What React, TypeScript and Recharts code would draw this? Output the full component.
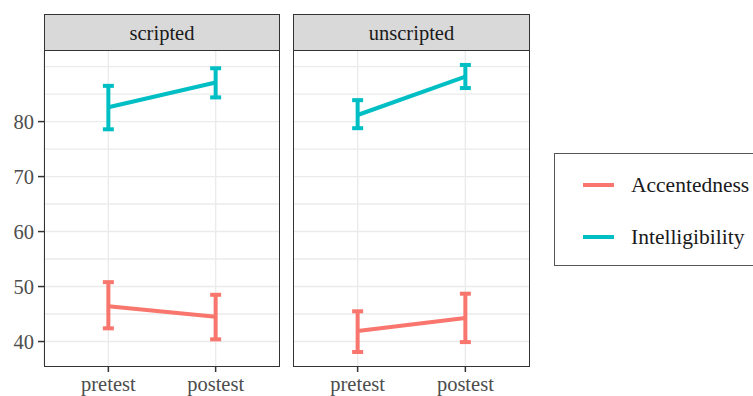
import { LineChart, Line, XAxis, YAxis, CartesianGrid, ErrorBar } from 'recharts';

const phases = ['pretest', 'postest'];
const conditions = ['scripted', 'unscripted'];
const measures = ['Accentedness', 'Intelligibility'];
const colors = ['#F8766D', '#00BFC4'];

// means and 95% interval ends, pretest / postest
const scriptedAccMean = [46.4, 44.5];
const scriptedAccLow = [42.4, 40.4];
const scriptedAccHigh = [50.8, 48.5];
const scriptedIntMean = [82.6, 87.1];
const scriptedIntLow = [78.6, 84.4];
const scriptedIntHigh = [86.5, 89.7];

const unscriptedAccMean = [41.9, 44.3];
const unscriptedAccLow = [38.1, 39.9];
const unscriptedAccHigh = [45.5, 48.7];
const unscriptedIntMean = [81.2, 88.2];
const unscriptedIntLow = [78.8, 86.1];
const unscriptedIntHigh = [83.9, 90.3];

const yTicks = [40, 50, 60, 70, 80];
const yGrid = [40, 45, 50, 55, 60, 65, 70, 75, 80, 85, 90];
const yDomain = [35.55, 92.84];

function buildRows(accMean: number[], accLow: number[], accHigh: number[], intMean: number[], intLow: number[], intHigh: number[]) {
  return phases.map((phase, i) => ({
    pos: i + 1,
    phase,
    acc: accMean[i],
    accErr: [accMean[i] - accLow[i], accHigh[i] - accMean[i]],
    int: intMean[i],
    intErr: [intMean[i] - intLow[i], intHigh[i] - intMean[i]],
  }));
}

const panels = [
  { name: conditions[0], rows: buildRows(scriptedAccMean, scriptedAccLow, scriptedAccHigh, scriptedIntMean, scriptedIntLow, scriptedIntHigh) },
  { name: conditions[1], rows: buildRows(unscriptedAccMean, unscriptedAccLow, unscriptedAccHigh, unscriptedIntMean, unscriptedIntLow, unscriptedIntHigh) },
];

const FONT = '"Liberation Serif", "Times New Roman", serif';
const tickStyle = { fill: '#4D4D4D', fontSize: 20.5, fontFamily: 'Liberation Serif' };

function Panel({ rows, showY, left, plotLeft, width }: { rows: any[]; showY: boolean; left: number; plotLeft: number; width: number }) {
  return (
    <div style={{ position: 'absolute', left, top: 0 }}>
      <LineChart width={width} height={396} data={rows} margin={{ top: 51, right: 0, bottom: 0, left: 0 }}>
        <CartesianGrid stroke="#EBEBEB" strokeWidth={1.4} horizontalValues={yGrid} />
        <XAxis
          dataKey="pos"
          type="number"
          domain={[0.4, 2.6]}
          ticks={[1, 2]}
          allowDataOverflow
          tickFormatter={(v: number) => phases[v - 1]}
          height={30}
          axisLine={false}
          tickLine={{ stroke: '#333333', strokeWidth: 1.5 }}
          tickSize={6}
          tickMargin={4}
          tick={tickStyle}
        />
        <YAxis
          type="number"
          domain={yDomain}
          allowDataOverflow
          ticks={yTicks}
          width={plotLeft}
          hide={!showY}
          axisLine={false}
          tickLine={{ stroke: '#333333', strokeWidth: 1.5 }}
          tickSize={6}
          tickMargin={4}
          tick={tickStyle}
        />
        <Line dataKey="acc" stroke={colors[0]} strokeWidth={4} dot={false} isAnimationActive={false}>
          <ErrorBar dataKey="accErr" direction="y" width={5.5} stroke={colors[0]} strokeWidth={4} isAnimationActive={false} />
        </Line>
        <Line dataKey="int" stroke={colors[1]} strokeWidth={4} dot={false} isAnimationActive={false}>
          <ErrorBar dataKey="intErr" direction="y" width={5.5} stroke={colors[1]} strokeWidth={4} isAnimationActive={false} />
        </Line>
      </LineChart>
    </div>
  );
}

export default function App() {
  const boxes = [
    { x: 44, w: 236 },
    { x: 293, w: 237 },
  ];
  return (
    <div style={{ position: 'absolute', left: 0, top: 0, width: 753, height: 396, overflow: 'hidden', background: '#fff', fontFamily: FONT }}>
      <style>{`.recharts-cartesian-axis-tick-value, .recharts-text { font-family: "Liberation Serif", serif !important; }`}</style>
      <Panel rows={panels[0].rows} showY left={0} plotLeft={44} width={280} />
      <Panel rows={panels[1].rows} showY={false} left={293} plotLeft={0} width={237} />
      {boxes.map((b, i) => (
        <div key={'strip' + i}>
          <div
            style={{
              position: 'absolute', left: b.x, top: 14, width: b.w, height: 37, boxSizing: 'border-box',
              background: '#D9D9D9', border: '1.5px solid #333333', color: '#1A1A1A', fontSize: 20.5,
              display: 'flex', alignItems: 'center', justifyContent: 'center', lineHeight: '20px', paddingTop: 1,
            }}
          >
            {panels[i].name}
          </div>
          <div
            style={{
              position: 'absolute', left: b.x, top: 50, width: b.w, height: 316.5, boxSizing: 'border-box',
              border: '1.5px solid #333333', pointerEvents: 'none',
            }}
          />
        </div>
      ))}
      <div
        style={{
          position: 'absolute', left: 554, top: 153, width: 230, height: 113, boxSizing: 'border-box',
          border: '1.3px solid #555555',
        }}
      >
        {measures.map((m, i) => (
          <div key={m} style={{ position: 'absolute', left: 28, top: 16 + i * 52, height: 30, display: 'flex', alignItems: 'center' }}>
            <div style={{ width: 31, height: 4.5, background: colors[i] }} />
            <span style={{ marginLeft: 17, fontSize: 21.5, color: '#1A1A1A' }}>{m}</span>
          </div>
        ))}
      </div>
    </div>
  );
}
